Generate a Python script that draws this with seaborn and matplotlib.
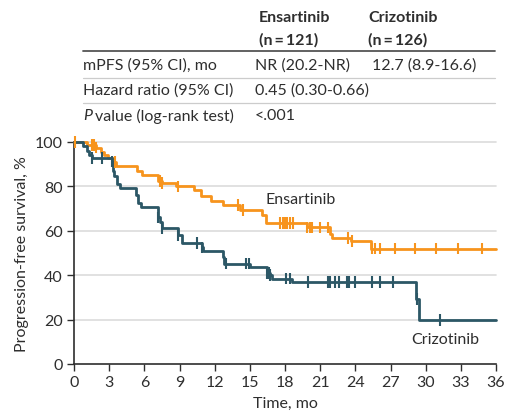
import numpy as np
import pandas as pd
import matplotlib
matplotlib.use("Agg")
import matplotlib.pyplot as plt
from matplotlib.lines import Line2D
import seaborn as sns

# ---- data ----
ens_time = [0, 1.1, 1.9, 2.3, 2.6, 2.9, 3.4, 3.6, 5.4, 5.8, 7.2, 7.5, 8.7, 10.2, 10.8,
            11.7, 12.7, 14.2, 16.0, 16.4, 19.9, 21.8, 22.0, 23.6, 25.3, 36]
ens_surv = [100, 98.6, 97.5, 95.5, 94, 92.8, 91, 89.1, 87, 85, 82.5, 81.4, 80, 78.4, 75.7,
            73.4, 71.6, 69.4, 67.1, 63.5, 61.5, 58.5, 56.8, 55.5, 52, 52]
ens_cens = [0.1, 1.5, 1.7, 1.9, 3.5, 7.3, 7.5, 8.9, 14.0, 14.4, 17.6, 17.8, 18.0, 18.2,
            18.4, 18.7, 19.9, 20.1, 20.3, 21.0, 21.7, 23.4, 23.7, 25.4, 25.7, 26.1, 27.4,
            29.1, 30.9, 32.8, 34.8]

cri_time = [0, 0.8, 1.1, 1.3, 1.5, 3.2, 3.3, 3.4, 3.7, 3.9, 5.3, 5.5, 5.7, 7.2, 7.3, 7.5,
            8.9, 9.2, 10.9, 11.0, 12.7, 12.8, 15.0, 16.5, 16.7, 16.9, 18.6, 29.2, 29.4, 36]
cri_surv = [100, 98, 96, 94.2, 92.8, 91.2, 87, 84.5, 81, 79.2, 76, 72.4, 70.6, 66, 63.8, 61.1,
            58.1, 54.5, 52.5, 50.8, 48, 45.2, 43.5, 41, 40, 38.5, 37.0, 29.4, 19.9, 19.9]
cri_cens = [1.5, 2.4, 3.2, 7.2, 7.5, 8.9, 10.5, 10.9, 13.0, 14.7, 14.9, 16.5, 16.6, 16.7,
            18.1, 18.4, 20.0, 21.7, 21.8, 22.3, 22.6, 23.3, 23.5, 24.0, 25.4, 26.1, 27.2,
            29.25, 31.2]

arms = ["Ensartinib", "Crizotinib"]
header_n = ["(n\u2009=\u2009121)", "(n\u2009=\u2009126)"]
row_labels = ["mPFS (95% CI), mo", "Hazard ratio (95% CI)", "value (log-rank test)"]
row_ens = ["NR (20.2-NR)", "0.45 (0.30-0.66)", "<.001"]
row_cri = ["12.7 (8.9-16.6)", "", ""]
x_ticks = [0, 3, 6, 9, 12, 15, 18, 21, 24, 27, 30, 33, 36]
y_ticks = [0, 20, 40, 60, 80, 100]

colors = {"Ensartinib": "#F7941D", "Crizotinib": "#2C5766"}
txt = "#2e2e2e"
FS = 11.5

def step_val(t, times, surv):
    idx = np.searchsorted(times, t, side="right") - 1
    return surv[idx]

curves = pd.concat([
    pd.DataFrame({"time": ens_time, "surv": ens_surv, "arm": "Ensartinib"}),
    pd.DataFrame({"time": cri_time, "surv": cri_surv, "arm": "Crizotinib"}),
], ignore_index=True)
cens = pd.concat([
    pd.DataFrame({"time": ens_cens,
                  "surv": [step_val(t, ens_time, ens_surv) for t in ens_cens],
                  "arm": "Ensartinib"}),
    pd.DataFrame({"time": cri_cens,
                  "surv": [step_val(t, cri_time, cri_surv) for t in cri_cens],
                  "arm": "Crizotinib"}),
], ignore_index=True)

sns.set_theme(style="white")
plt.rcParams["font.family"] = ["Lato", "DejaVu Sans"]

fig = plt.figure(figsize=(5.05, 4.14), dpi=100)
ax = fig.add_axes([74 / 505, 1 - 365 / 414, (496 - 74) / 505, (365 - 143) / 414])

for y in [20, 40, 60, 80, 100]:
    ax.axhline(y, color="#dcdcdc", lw=1.2, zorder=0, clip_on=False)

sns.lineplot(data=curves, x="time", y="surv", hue="arm", palette=colors,
             estimator=None, sort=False, drawstyle="steps-post", lw=2.0,
             legend=False, ax=ax, clip_on=False, zorder=3)
sns.scatterplot(data=cens, x="time", y="surv", hue="arm", palette=colors,
                marker="|", s=70, linewidth=1.5, legend=False, ax=ax,
                clip_on=False, zorder=4)

ax.set_xlim(0, 36)
ax.set_ylim(0, 100)
ax.set_xticks(x_ticks)
ax.set_yticks(y_ticks)
ax.tick_params(axis="both", which="major", direction="out", length=5, width=1.0,
               color=txt, labelsize=FS, labelcolor=txt, pad=3, left=True, bottom=True)
for s in ["top", "right"]:
    ax.spines[s].set_visible(False)
for s in ["left", "bottom"]:
    ax.spines[s].set_color(txt)
    ax.spines[s].set_linewidth(1.2)
ax.set_xlabel("Time, mo", fontsize=FS, color=txt, labelpad=5)
ax.set_ylabel("Progression-free survival, %", fontsize=FS, color=txt, labelpad=4)

ax.text(16.3, 74.5, "Ensartinib", fontsize=FS, color=txt, ha="left", va="center")
ax.text(31.7, 11.3, "Crizotinib", fontsize=FS, color=txt, ha="center", va="center")

# ---- table above the plot ----
def fx(px):
    return px / 505
def fy(py):
    return 1 - py / 414

fig.text(fx(259), fy(18), arms[0], fontsize=FS, fontweight="bold", color=txt, va="center")
fig.text(fx(259), fy(40), header_n[0], fontsize=FS, fontweight="bold", color=txt, va="center")
fig.text(fx(368), fy(18), arms[1], fontsize=FS, fontweight="bold", color=txt, va="center")
fig.text(fx(368), fy(40), header_n[1], fontsize=FS, fontweight="bold", color=txt, va="center")

fig.add_artist(Line2D([fx(83), fx(495)], [fy(52), fy(52)], color="#555555", lw=1.3))
fig.add_artist(Line2D([fx(83), fx(495)], [fy(79), fy(79)], color="#cccccc", lw=0.9))
fig.add_artist(Line2D([fx(83), fx(495)], [fy(104), fy(104)], color="#cccccc", lw=0.9))

row_y = [66, 91, 116]
fig.text(fx(83), fy(row_y[0]), row_labels[0], fontsize=FS, color=txt, va="center")
fig.text(fx(83), fy(row_y[1]), row_labels[1], fontsize=FS, color=txt, va="center")
fig.text(fx(83), fy(row_y[2]), "P", fontsize=FS, color=txt, va="center", style="italic")
fig.text(fx(95), fy(row_y[2]), row_labels[2], fontsize=FS, color=txt, va="center")
for i in range(3):
    fig.text(fx(255), fy(row_y[i]), row_ens[i], fontsize=FS, color=txt, va="center")
    if row_cri[i]:
        fig.text(fx(372), fy(row_y[i]), row_cri[i], fontsize=FS, color=txt, va="center")

fig.savefig("out.png", dpi=100)
